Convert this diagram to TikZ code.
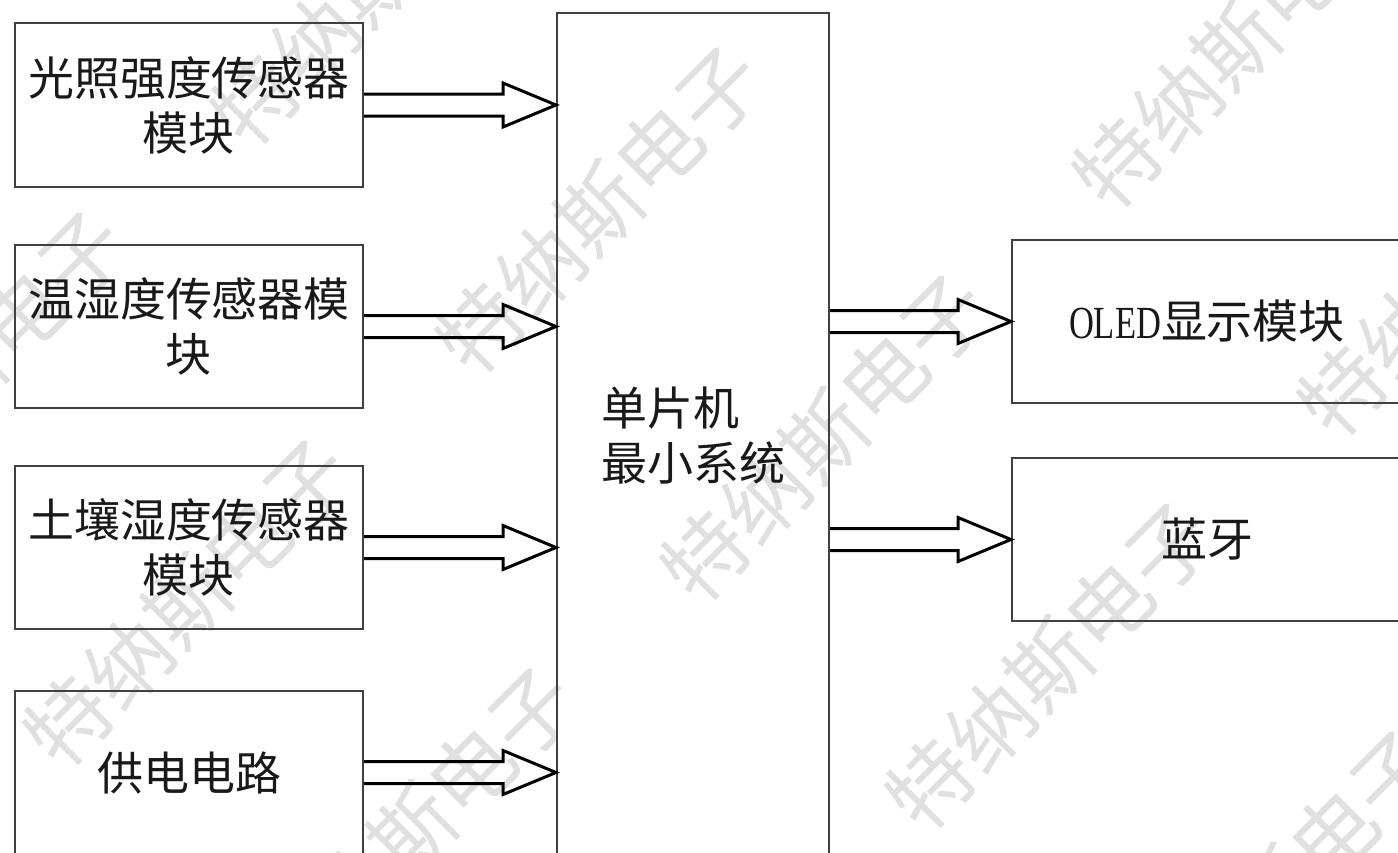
\documentclass[tikz,border=0pt]{standalone}
\usepackage{fontspec}
\usepackage{graphicx}
\setmainfont{Liberation Serif}
\newfontfamily\cjk{Noto Sans CJK SC}
\usetikzlibrary{calc}
\tikzset{
  blk/.style={draw=black!75, line width=2pt, rectangle, anchor=north west, inner sep=0pt,
    align=center, font=\cjk\fontsize{46}{55}\selectfont, text=black!90},
  harrow/.style={draw=black, line width=3pt, line join=miter},
  wm/.style={rotate=45, font=\cjk\fontsize{84}{84}\selectfont, text=black!12},
}
\newcommand{\harr}[2]{%
  \draw[harrow] ($(#1)+(0,-11)$) -- ($(#2)+(-53,-11)$) -- ($(#2)+(-53,-22)$) -- (#2)
    -- ($(#2)+(-53,22)$) -- ($(#2)+(-53,11)$) -- ($(#1)+(0,11)$);}
\begin{document}
\begin{tikzpicture}[x=1pt,y=-1pt]
\useasboundingbox (0,0) rectangle (1398,852);
\clip (0,0) rectangle (1398,852);
\fill[white] (0,0) rectangle (1398,852);
% watermarks
\foreach \p/\q in {375/-18, 600/210, 825/438, 1050/666, 1275/894, -37/375, 188/603, 413/831, 1237/45, 1462/273}
  \node[wm] at (\p,\q) {特纳斯电子};
% blocks
\node[blk, minimum width=348pt, minimum height=164pt] (s1) at (14,22) {光照强度传感器\\模块};
\node[blk, minimum width=348pt, minimum height=163pt] (s2) at (14,244) {温湿度传感器模\\块};
\node[blk, minimum width=348pt, minimum height=163pt] (s3) at (14,465) {土壤湿度传感器\\模块};
\node[blk, minimum width=348pt, minimum height=163pt] (s4) at (14,690) {供电电路};
\node[blk, minimum width=272pt, minimum height=845pt, align=left] (mcu) at (556,12) {单片机\\最小系统};
\node[blk, minimum width=390pt, minimum height=163pt] (oled) at (1011,239) {{\scalebox{0.75}[1]{\rmfamily OLED}}显示模块};
\node[blk, minimum width=390pt, minimum height=163pt] (bt) at (1011,457) {蓝牙};
% hollow arrows
\harr{s1.east}{s1.east -| mcu.west}
\harr{s2.east}{s2.east -| mcu.west}
\harr{s3.east}{s3.east -| mcu.west}
\harr{s4.east}{s4.east -| mcu.west}
\harr{mcu.east |- oled.west}{oled.west}
\harr{mcu.east |- bt.west}{bt.west}
\end{tikzpicture}
\end{document}
